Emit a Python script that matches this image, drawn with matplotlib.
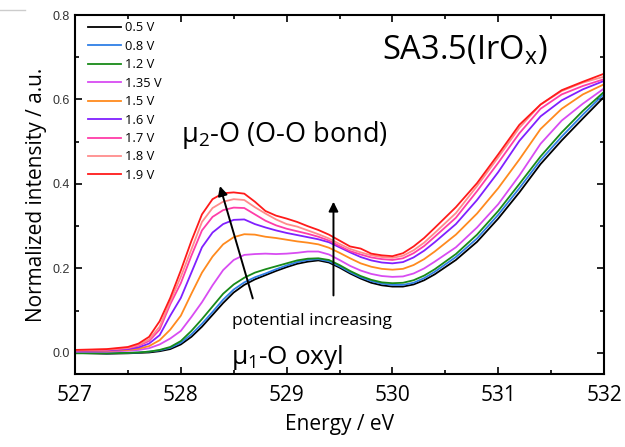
import matplotlib
matplotlib.use("Agg")
import matplotlib.pyplot as plt
from matplotlib.lines import Line2D
from matplotlib.ticker import MultipleLocator

# O K-edge spectra of SA3.5 (IrOx) recorded at increasing potential
energy = [527.0, 527.3, 527.5, 527.6, 527.7, 527.8, 527.9, 528.0, 528.1, 528.2,
          528.3, 528.4, 528.5, 528.6, 528.7, 528.8, 528.9, 529.0, 529.1, 529.2,
          529.3, 529.4, 529.5, 529.6, 529.7, 529.8, 529.9, 530.0, 530.1, 530.2,
          530.3, 530.4, 530.6, 530.8, 531.0, 531.2, 531.4, 531.6, 531.8, 532.0]

labels = ["0.5 V", "0.8 V", "1.2 V", "1.35 V", "1.5 V", "1.6 V", "1.7 V", "1.8 V", "1.9 V"]
colors = ["#000000", "#2f7fe6", "#188a18", "#d84cf2", "#ff8a1e",
          "#8020ff", "#ff3da8", "#ff8c8c", "#ff1a1a"]

v05 = [0.000, -0.002, -0.001, 0.000, 0.001, 0.004, 0.009, 0.020, 0.038, 0.062,
       0.090, 0.118, 0.143, 0.161, 0.174, 0.184, 0.194, 0.203, 0.211, 0.216,
       0.219, 0.214, 0.202, 0.188, 0.176, 0.166, 0.160, 0.157, 0.157, 0.162,
       0.172, 0.186, 0.220, 0.263, 0.318, 0.380, 0.447, 0.503, 0.555, 0.606]
v08 = [0.001, -0.001, 0.000, 0.001, 0.003, 0.006, 0.012, 0.024, 0.044, 0.069,
       0.097, 0.126, 0.150, 0.167, 0.179, 0.188, 0.198, 0.207, 0.215, 0.220,
       0.222, 0.217, 0.205, 0.191, 0.179, 0.170, 0.164, 0.161, 0.161, 0.166,
       0.177, 0.192, 0.227, 0.271, 0.327, 0.390, 0.456, 0.512, 0.564, 0.613]
v12 = [-0.001, -0.001, 0.000, 0.001, 0.003, 0.007, 0.014, 0.028, 0.052, 0.080,
       0.110, 0.140, 0.162, 0.178, 0.190, 0.198, 0.205, 0.212, 0.219, 0.223,
       0.224, 0.220, 0.208, 0.194, 0.182, 0.173, 0.167, 0.165, 0.166, 0.172,
       0.183, 0.198, 0.234, 0.280, 0.336, 0.400, 0.465, 0.522, 0.573, 0.618]
v135 = [0.003, 0.003, 0.005, 0.007, 0.011, 0.020, 0.034, 0.052, 0.085, 0.120,
        0.160, 0.196, 0.220, 0.232, 0.234, 0.235, 0.234, 0.235, 0.237, 0.240,
        0.240, 0.233, 0.220, 0.206, 0.195, 0.187, 0.182, 0.180, 0.181, 0.188,
        0.200, 0.216, 0.250, 0.297, 0.352, 0.420, 0.495, 0.550, 0.590, 0.626]
v15 = [0.005, 0.005, 0.007, 0.010, 0.016, 0.030, 0.055, 0.088, 0.140, 0.190,
       0.228, 0.257, 0.274, 0.281, 0.280, 0.275, 0.272, 0.268, 0.264, 0.261,
       0.257, 0.249, 0.237, 0.224, 0.212, 0.204, 0.199, 0.197, 0.199, 0.208,
       0.222, 0.240, 0.280, 0.330, 0.390, 0.458, 0.530, 0.578, 0.612, 0.636]
v16 = [0.005, 0.006, 0.009, 0.013, 0.022, 0.042, 0.088, 0.130, 0.190, 0.250,
       0.285, 0.305, 0.315, 0.316, 0.305, 0.297, 0.290, 0.284, 0.279, 0.274,
       0.269, 0.262, 0.250, 0.238, 0.227, 0.219, 0.214, 0.212, 0.215, 0.226,
       0.242, 0.262, 0.305, 0.362, 0.428, 0.502, 0.560, 0.598, 0.624, 0.644]
v17 = [0.006, 0.007, 0.011, 0.017, 0.028, 0.055, 0.115, 0.165, 0.230, 0.290,
       0.322, 0.338, 0.344, 0.343, 0.328, 0.313, 0.302, 0.294, 0.288, 0.282,
       0.275, 0.266, 0.253, 0.241, 0.233, 0.226, 0.222, 0.220, 0.224, 0.236,
       0.253, 0.275, 0.320, 0.383, 0.450, 0.520, 0.578, 0.612, 0.632, 0.648]
v18 = [0.006, 0.008, 0.012, 0.019, 0.032, 0.062, 0.122, 0.180, 0.245, 0.310,
       0.343, 0.358, 0.364, 0.362, 0.345, 0.330, 0.316, 0.305, 0.299, 0.290,
       0.281, 0.271, 0.258, 0.246, 0.238, 0.231, 0.227, 0.225, 0.230, 0.243,
       0.261, 0.284, 0.331, 0.395, 0.463, 0.533, 0.588, 0.620, 0.640, 0.654]
v19 = [0.007, 0.009, 0.014, 0.022, 0.038, 0.075, 0.130, 0.195, 0.265, 0.328,
       0.364, 0.378, 0.380, 0.377, 0.358, 0.336, 0.325, 0.318, 0.310, 0.300,
       0.291, 0.280, 0.266, 0.252, 0.247, 0.235, 0.231, 0.229, 0.236, 0.252,
       0.272, 0.296, 0.345, 0.402, 0.470, 0.540, 0.588, 0.622, 0.642, 0.661]

spectra = [v05, v08, v12, v135, v15, v16, v17, v18, v19]

plt.rcParams['font.family'] = ['Open Sans', 'DejaVu Sans']

fig = plt.figure(figsize=(6.25, 4.47), dpi=100)
ax = fig.add_axes([0.12, 0.1633, 0.8464, 0.8031])

for y, lab, c in zip(spectra, labels, colors):
    ax.plot(energy, y, color=c, lw=1.3, label=lab)

ax.set_xlim(527, 532)
ax.set_ylim(-0.05, 0.8)
ax.xaxis.set_major_locator(MultipleLocator(1))
ax.xaxis.set_minor_locator(MultipleLocator(0.5))
ax.yaxis.set_major_locator(MultipleLocator(0.2))
ax.yaxis.set_minor_locator(MultipleLocator(0.1))
ax.tick_params(which='both', direction='in', top=True, right=True, width=1.2)
ax.tick_params(which='major', length=5)
ax.tick_params(which='minor', length=3)
ax.tick_params(axis='x', labelsize=15, pad=8)
ax.tick_params(axis='y', labelsize=9, pad=4, labelcolor='#333333')
for lbl in ax.get_yticklabels():
    lbl.set_family('Liberation Sans')
for s in ax.spines.values():
    s.set_linewidth(1.5)

ax.set_xlabel("Energy / eV", fontsize=15, labelpad=6)
ax.set_ylabel("Normalized intensity / a.u.", fontsize=15, labelpad=4)

leg = ax.legend(loc='upper left', bbox_to_anchor=(0.012, 1.0), frameon=False,
                fontsize=9.3, handlelength=2.6, handletextpad=0.3,
                labelspacing=0.42, borderaxespad=0.1)

ax.text(529.9, 0.715, r"SA3.5(IrO$\mathregular{_x}$)", fontsize=23.5, va='center', ha='left')
ax.text(528.0, 0.515, r"$\mathregular{\mu_2}$-O (O-O bond)", fontsize=19.5, va='center', ha='left')
ax.text(528.48, 0.075, "potential increasing", fontsize=12.5, va='center', ha='left')
ax.text(528.47, -0.01, r"$\mathregular{\mu_1}$-O oxyl", fontsize=18.8, va='center', ha='left')

arrow = dict(arrowstyle='-|>', color='black', lw=1.4, mutation_scale=14, shrinkA=0, shrinkB=0)
ax.annotate("", xy=(528.37, 0.395), xytext=(528.68, 0.129), arrowprops=arrow)
ax.annotate("", xy=(529.443, 0.358), xytext=(529.443, 0.136), arrowprops=arrow)

# thin grey border stub at the top left of the canvas
fig.add_artist(Line2D([0.0, 0.04], [0.978, 0.978], color='#cccccc', lw=1.0))

fig.savefig("out.png", dpi=100)
